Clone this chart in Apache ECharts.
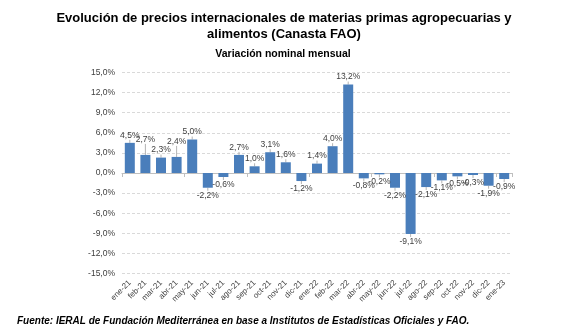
<!DOCTYPE html>
<html><head><meta charset="utf-8">
<script src="https://cdn.jsdelivr.net/npm/echarts@6/dist/echarts.min.js"></script>
<style>html,body{margin:0;padding:0;background:#fff}#c{width:562px;height:333px}</style>
</head><body><div id="c"></div>
<script>
const categories = ['ene-21','feb-21','mar-21','abr-21','may-21','jun-21','jul-21','ago-21','sep-21','oct-21','nov-21','dic-21','ene-22','feb-22','mar-22','abr-22','may-22','jun-22','jul-22','ago-22','sep-22','oct-22','nov-22','dic-22','ene-23'];
const variacion = [4.5,2.7,2.3,2.4,5.0,-2.2,-0.6,2.7,1.0,3.1,1.6,-1.2,1.4,4.0,13.2,-0.8,-0.2,-2.2,-9.1,-2.1,-1.1,-0.5,-0.3,-1.9,-0.9];
const yTicks = {min:-15, max:15, step:3};
const titleLines = ['Evolución de precios internacionales de materias primas agropecuarias y','alimentos (Canasta FAO)'];
const subtitle = 'Variación nominal mensual';
const source = 'Fuente: IERAL de Fundación Mediterránea en base a Institutos de Estadísticas Oficiales y FAO.';

const fmt = v => v.toFixed(1).replace('.', ',') + '%';
const lblFont = '"Liberation Sans Narrow","Liberation Sans",Arial,sans-serif';
const ttlFont = '"Liberation Sans",Arial,sans-serif';
const chart = echarts.init(document.getElementById('c'), null, {renderer:'canvas'});
const raised = {1:-8, 3:-8};
chart.setOption({
  animation:false,
  title:[
    {text:titleLines.join('\n'), left:279, top:5, textAlign:'center',
     textStyle:{fontFamily:ttlFont, fontWeight:'bold', fontSize:13, lineHeight:16, color:'#000'}},
    {text:subtitle, left:278, top:44, textAlign:'center',
     textStyle:{fontFamily:ttlFont, fontWeight:'bold', fontSize:10.5, color:'#000'}},
    {text:source, left:12, top:311,
     textStyle:{fontFamily:ttlFont, fontWeight:'bold', fontStyle:'italic', fontSize:10, color:'#000'}}
  ],
  grid:{left:122, right:50, top:72.5, bottom:59.5},
  xAxis:[
    {type:'category', data:categories, position:'bottom',
     axisLine:{onZero:true, lineStyle:{color:'#bfbfbf'}},
     axisTick:{show:true, length:4, lineStyle:{color:'#bfbfbf'}},
     axisLabel:{show:false}},
    {type:'category', data:categories, position:'bottom',
     axisLine:{show:false}, axisTick:{show:false},
     axisLabel:{interval:0, rotate:45, fontSize:8, margin:8, color:'#404040', fontFamily:lblFont}}
  ],
  yAxis:{type:'value', min:yTicks.min, max:yTicks.max, interval:yTicks.step,
    axisLine:{show:false}, axisTick:{show:false},
    splitLine:{lineStyle:{color:'#d9d9d9', type:[3,2]}},
    axisLabel:{formatter:fmt, fontSize:8.5, margin:7, color:'#404040', fontFamily:lblFont}},
  series:[{
    type:'bar', xAxisIndex:0, barWidth:10,
    data: variacion.map(v => ({value:v, label:{position: v<0 ? 'bottom':'top'}})),
    itemStyle:{color:'#4a7ebb'},
    label:{show:true, formatter:p=>fmt(p.value), fontSize:8.5, color:'#404040', fontFamily:lblFont, distance:3},
    labelLine:{show:true, lineStyle:{color:'#a0a0a0', width:0.8}},
    labelLayout:function(p){ const d = raised[p.dataIndex]; return d ? {dy:d} : {}; }
  }]
});
</script></body></html>
